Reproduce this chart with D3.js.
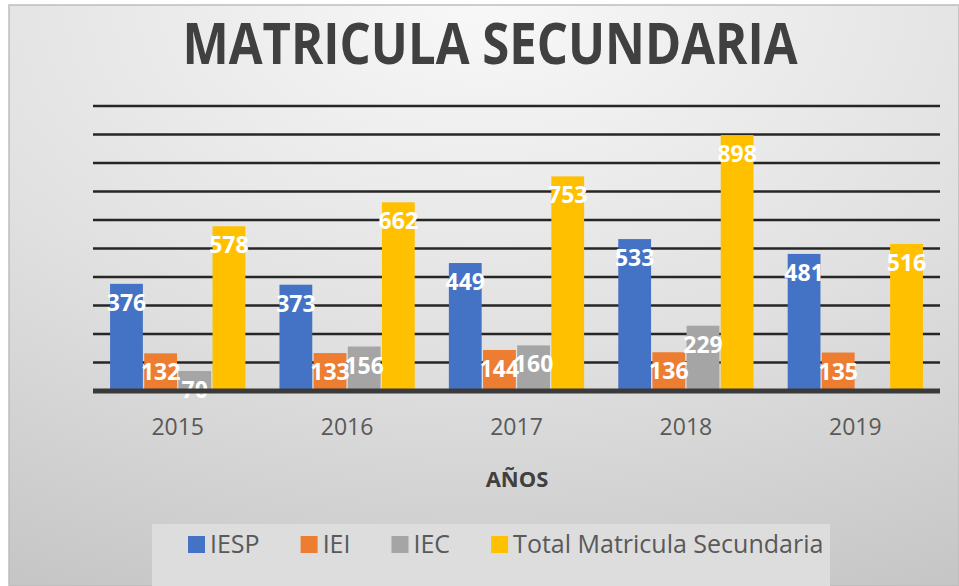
<!DOCTYPE html>
<head>
  <meta charset="utf-8">
  <style>
    body { margin: 0; background: #fff; }
    svg { display: block; font-family: "Open Sans", sans-serif; }
    .grid line { stroke: #262626; stroke-width: 2.5px; }
    .val { fill: #fff; font-weight: 700; font-size: 23px; text-anchor: middle; }
  </style>
</head>
<body>
  <svg></svg>
  <script src="https://d3js.org/d3.v7.min.js"></script>
  <script>
    // data
    const years = ["2015", "2016", "2017", "2018", "2019"];
    const series = ["IESP", "IEI", "IEC", "Total Matricula Secundaria"];
    const iesp  = [376, 373, 449, 533, 481];
    const iei   = [132, 133, 144, 136, 135];
    const iec   = [70, 156, 160, 229, 5];
    const total = [578, 662, 753, 898, 516];
    const gridTicks = [100, 200, 300, 400, 500, 600, 700, 800, 900, 1000];
    const colors = ["#4472C4", "#ED7D31", "#A5A5A5", "#FFC000"];

    const values = [iesp, iei, iec, total];
    const width = 959, height = 586;
    const svg = d3.select("svg").attr("width", width).attr("height", height);

    // background
    const defs = svg.append("defs");
    const grad = defs.append("radialGradient").attr("id", "bg")
        .attr("cx", "50%").attr("cy", "0%").attr("r", "110%")
        .attr("fx", "50%").attr("fy", "0%");
    grad.append("stop").attr("offset", "0%").attr("stop-color", "#f8f8f8");
    grad.append("stop").attr("offset", "55%").attr("stop-color", "#e0e0e0");
    grad.append("stop").attr("offset", "100%").attr("stop-color", "#c6c6c6");

    svg.append("rect").attr("x", 9).attr("y", 5).attr("width", width - 9).attr("height", height - 5)
        .attr("fill", "url(#bg)").attr("stroke", "#bdbdbd").attr("stroke-width", 1.5);

    // title
    svg.append("text")
        .attr("x", 490).attr("y", 64)
        .attr("text-anchor", "middle")
        .attr("font-size", 58).attr("font-weight", 700)
        .attr("fill", "#404040")
        .attr("textLength", 615).attr("lengthAdjust", "spacingAndGlyphs")
        .text("MATRICULA SECUNDARIA");

    const x0 = d3.scaleBand().domain(years).range([93, 940]);
    const x1 = d3.scaleBand().domain(series).range([0, x0.bandwidth()])
        .paddingInner(0.04).paddingOuter(0.5);
    const y = d3.scaleLinear().domain([0, 1000]).range([391, 106]);

    // gridlines
    svg.append("g").attr("class", "grid")
      .selectAll("line").data(gridTicks).join("line")
        .attr("x1", 93).attr("x2", 940)
        .attr("y1", d => y(d)).attr("y2", d => y(d));

    // bars
    const groups = svg.append("g").selectAll("g").data(years).join("g")
        .attr("transform", d => `translate(${x0(d)},0)`);

    const cell = (yr, i) => series.map((s, k) => ({ s: s, k: k, v: values[k][i] }));

    groups.selectAll("rect").data((d, i) => cell(d, i)).join("rect")
        .attr("x", d => x1(d.s))
        .attr("width", x1.bandwidth())
        .attr("y", d => y(d.v))
        .attr("height", d => y(0) - y(d.v))
        .attr("fill", d => colors[d.k]);

    // baseline
    svg.append("line")
        .attr("x1", 93).attr("x2", 940)
        .attr("y1", y(0)).attr("y2", y(0))
        .attr("stroke", "#3a3a3a").attr("stroke-width", 5);

    // value labels
    groups.selectAll("text").data((d, i) => cell(d, i).filter(c => c.v >= 10)).join("text")
        .attr("class", "val")
        .attr("x", d => x1(d.s) + x1.bandwidth() / 2)
        .attr("y", d => y(d.v) + 27)
        .text(d => d.v);

    // x axis labels
    svg.append("g").selectAll("text").data(years).join("text")
        .attr("x", d => x0(d) + x0.bandwidth() / 2)
        .attr("y", 435)
        .attr("text-anchor", "middle")
        .attr("font-size", 23).attr("fill", "#595959")
        .text(d => d);

    svg.append("text")
        .attr("x", 517).attr("y", 487)
        .attr("text-anchor", "middle")
        .attr("font-size", 22).attr("font-weight", 700).attr("fill", "#404040")
        .text("AÑOS");

    // legend
    svg.append("rect").attr("x", 152).attr("y", 524).attr("width", 678).attr("height", 62)
        .attr("fill", "#dddddd");

    let lx = 188;
    series.forEach((s, k) => {
      svg.append("rect").attr("x", lx).attr("y", 536).attr("width", 17).attr("height", 17)
          .attr("fill", colors[k]);
      const t = svg.append("text").attr("x", lx + 22).attr("y", 553)
          .attr("font-size", 25).attr("fill", "#595959").text(s);
      lx += 22 + t.node().getComputedTextLength() + 41;
    });
  </script>
</body>
